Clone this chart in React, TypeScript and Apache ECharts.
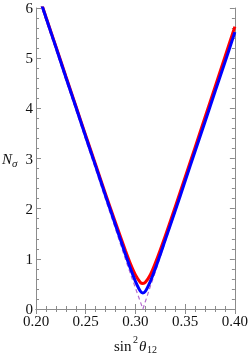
import React, { useEffect, useRef } from "react";
import * as echarts from "echarts";

const xs = [0.20, 0.21, 0.22, 0.23, 0.24, 0.25, 0.26, 0.27, 0.28, 0.29, 0.295, 0.30, 0.305, 0.3075, 0.31, 0.315, 0.32, 0.33, 0.34, 0.35, 0.36, 0.37, 0.38, 0.39, 0.40];
const redN = [6.42, 5.82, 5.235, 4.64, 4.05, 3.46, 2.875, 2.29, 1.72, 1.16, 0.90, 0.68, 0.53, 0.51, 0.532, 0.683, 0.914, 1.456, 2.035, 2.626, 3.222, 3.822, 4.423, 5.026, 5.629];
const blueN = [6.408, 5.809, 5.22, 4.62, 4.03, 3.435, 2.848, 2.253, 1.671, 1.088, 0.806, 0.552, 0.353, 0.32, 0.353, 0.552, 0.806, 1.378, 1.956, 2.55, 3.146, 3.734, 4.332, 4.92, 5.519];
const dashedN = [6.35, 5.75, 5.16, 4.56, 3.97, 3.37, 2.78, 2.18, 1.59, 0.99, 0.70, 0.42, 0.14, 0, 0.15, 0.45, 0.74, 1.34, 1.93, 2.53, 3.13, 3.72, 4.32, 4.91, 5.51];
const xTicks = ["0.20", "0.25", "0.30", "0.35", "0.40"];
const yTicks = ["0", "1", "2", "3", "4", "5", "6"];

const FONT = "'Liberation Serif', 'DejaVu Serif', serif";
const FRAME = "#8c8c8c";

export default function App() {
  const ref = useRef<HTMLDivElement>(null);
  useEffect(() => {
    if (!ref.current) return;
    const chart = echarts.init(ref.current, null, { renderer: "svg" });
    const pairs = (ys: number[]) => xs.map((x, i) => [x, ys[i]]);
    const axisCommon = {
      axisLine: { show: true, lineStyle: { color: FRAME, width: 1 } },
      axisTick: { show: true, inside: true, length: 5, lineStyle: { color: FRAME } },
      minorTick: { show: true, splitNumber: 5, length: 3, lineStyle: { color: FRAME } },
      splitLine: { show: false },
    };
    const xLabelFmt = (v: number) => xTicks[Math.round((v - 0.2) / 0.05)] ?? "";
    const yLabelFmt = (v: number) => yTicks[Math.round(v)] ?? "";
    chart.setOption({
      animation: false,
      grid: { left: 36, right: 14, top: 8, bottom: 45, containLabel: false },
      xAxis: [
        {
          type: "value", min: 0.2, max: 0.4, interval: 0.05, position: "bottom",
          ...axisCommon,
          axisLabel: { formatter: xLabelFmt, fontFamily: FONT, fontSize: 15, color: "#111", margin: 4 },
        },
        {
          type: "value", min: 0.2, max: 0.4, interval: 0.05, position: "top",
          ...axisCommon, axisLabel: { show: false },
        },
      ],
      yAxis: [
        {
          type: "value", min: 0, max: 6, interval: 1, position: "left",
          ...axisCommon,
          axisLabel: { formatter: yLabelFmt, fontFamily: FONT, fontSize: 15, color: "#111", margin: 3 },
        },
        {
          type: "value", min: 0, max: 6, interval: 1, position: "right",
          ...axisCommon, axisLabel: { show: false },
        },
      ],
      series: [
        {
          type: "line", data: pairs(dashedN), showSymbol: false, smooth: false,
          lineStyle: { color: "#b56ccf", width: 1.2, type: [4, 3] }, z: 1,
        },
        {
          type: "line", data: pairs(redN), showSymbol: false, smooth: 0.3,
          lineStyle: { color: "#ff0000", width: 3 }, z: 2,
        },
        {
          type: "line", data: pairs(blueN), showSymbol: false, smooth: 0.3,
          lineStyle: { color: "#0000ff", width: 3 }, z: 3,
        },
      ],
      graphic: [
        {
          type: "text", left: 2, top: 151,
          style: {
            text: "{n|N}{s|σ}",
            rich: {
              n: { fontFamily: FONT, fontStyle: "italic", fontSize: 15, fill: "#111" },
              s: { fontFamily: FONT, fontStyle: "italic", fontSize: 11, fill: "#111", padding: [8, 0, 0, 0] },
            },
          },
        },
        {
          type: "group", left: 114, top: 334,
          children: [
            { type: "text", x: 0, y: 4, style: { text: "sin", fontFamily: FONT, fontSize: 15, fill: "#111" } },
            { type: "text", x: 19, y: 0, style: { text: "2", fontFamily: FONT, fontSize: 10, fill: "#111" } },
            { type: "text", x: 25, y: 4, style: { text: "θ", fontFamily: FONT, fontStyle: "italic", fontSize: 15, fill: "#111" } },
            { type: "text", x: 33, y: 10, style: { text: "12", fontFamily: FONT, fontSize: 10, fill: "#111" } },
          ],
        },
      ],
    });
    return () => chart.dispose();
  }, []);
  return <div ref={ref} style={{ position: "fixed", left: 0, top: 0, width: 251, height: 354 }} />;
}
